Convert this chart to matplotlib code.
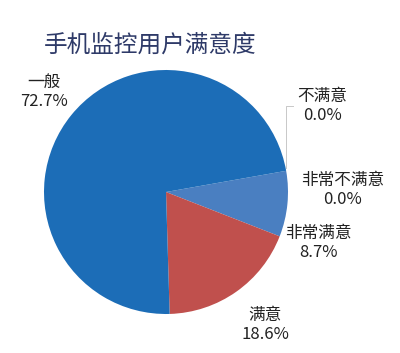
import matplotlib
matplotlib.use("Agg")
import matplotlib.pyplot as plt

plt.rcParams['font.family'] = ['Noto Sans CJK SC', 'DejaVu Sans']

title = "手机监控用户满意度"
categories = ["非常满意", "满意", "一般", "不满意", "非常不满意"]
shares = [8.7, 18.6, 72.7, 0.0, 0.0]
colors = ["#4a7fc1", "#c0504d", "#1c6db7", "#1c6db7", "#1c6db7"]

W, H = 400, 353
fig = plt.figure(figsize=(W / 100, H / 100), dpi=100)
ax = fig.add_axes([0, 0, 1, 1])

cx, cy, R = 166, H - 192, 122
ax.pie(shares, colors=colors, startangle=10, counterclock=False,
       center=(cx, cy), radius=R, wedgeprops=dict(linewidth=0))

ax.set_xlim(0, W)
ax.set_ylim(0, H)
ax.set_aspect('equal')
ax.axis('off')

ax.text(150, H - 45, title, ha='center', va='center', fontsize=17,
        color='#2e3a68', fontweight='medium')

# label placement (pixel coordinates, y measured from the top)
label_pos = {
    "一般": (44, 92),
    "满意": (265, 325),
    "非常满意": (318, 243),
    "不满意": (322, 106),
    "非常不满意": (343, 190),
}
for name, val in zip(categories, shares):
    x, y = label_pos[name]
    ax.text(x, H - y, f"{name}\n{val:.1f}%", ha='center', va='center',
            fontsize=12, color='#222222', linespacing=1.2)

# leader line for the zero-size slice
ax.plot([293, 286, 286], [H - 106, H - 106, H - 168], color='#c8c8c8',
        linewidth=0.7)

fig.savefig("out.png", dpi=100, facecolor='white')
